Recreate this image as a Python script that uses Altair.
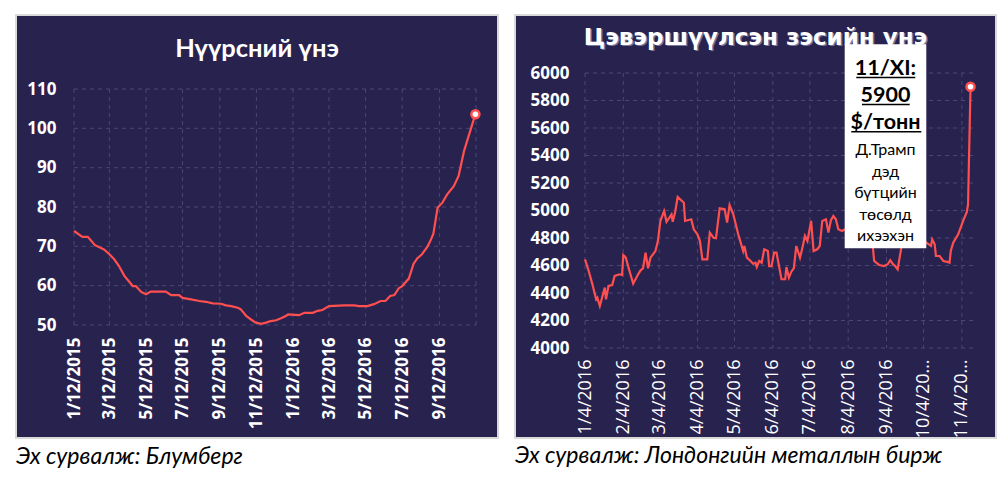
import altair as alt
import pandas as pd

# ---------------- data ----------------
coal_dates = [
    "2015-01-12", "2015-01-26", "2015-02-04", "2015-02-16", "2015-03-03", "2015-03-12",
    "2015-03-20", "2015-03-28", "2015-04-06", "2015-04-20", "2015-04-25", "2015-05-04",
    "2015-05-12", "2015-05-20", "2015-06-14", "2015-06-23", "2015-07-06", "2015-07-12",
    "2015-07-26", "2015-08-09", "2015-08-20", "2015-08-31", "2015-09-14", "2015-09-22",
    "2015-10-01", "2015-10-12", "2015-10-17", "2015-10-26", "2015-11-03", "2015-11-11",
    "2015-11-20", "2015-11-28", "2015-12-06", "2015-12-15", "2015-12-23", "2015-12-31",
    "2016-01-04", "2016-01-22", "2016-01-31", "2016-02-14", "2016-02-22", "2016-03-01",
    "2016-03-12", "2016-04-06", "2016-04-23", "2016-05-01", "2016-05-15", "2016-05-26",
    "2016-06-06", "2016-06-14", "2016-06-22", "2016-06-29", "2016-07-06", "2016-07-12",
    "2016-07-23", "2016-07-31", "2016-08-06", "2016-08-14", "2016-08-23", "2016-08-28",
    "2016-09-02", "2016-09-09", "2016-09-17", "2016-09-25", "2016-10-06", "2016-10-14",
    "2016-10-23", "2016-11-11",
]
coal_values = [
    73.9, 72.4, 72.4, 70.3, 69.2, 68.0,
    66.7, 65.0, 62.5, 59.9, 59.9, 58.4,
    57.8, 58.5, 58.5, 57.6, 57.6, 56.9,
    56.5, 56.1, 55.9, 55.5, 55.4, 55.0,
    54.8, 54.4, 54.0, 52.3, 51.4, 50.6,
    50.3, 50.6, 51.0, 51.2, 51.7, 52.3,
    52.7, 52.5, 53.1, 53.1, 53.6, 53.8,
    54.8, 55.0, 55.0, 54.8, 54.8, 55.3,
    56.1, 56.1, 57.4, 57.6, 59.3, 59.9,
    61.8, 65.6, 66.9, 68.0, 69.9, 71.4,
    73.2, 79.8, 81.1, 83.2, 85.3, 87.9,
    94.2, 103.6,
]

copper_dates = [
    "2016-01-04", "2016-01-07", "2016-01-10", "2016-01-13", "2016-01-14", "2016-01-16",
    "2016-01-20", "2016-01-21", "2016-01-23", "2016-01-26", "2016-01-28", "2016-02-01",
    "2016-02-03", "2016-02-04", "2016-02-06", "2016-02-09", "2016-02-12", "2016-02-16",
    "2016-02-18", "2016-02-20", "2016-02-22", "2016-02-24", "2016-02-26", "2016-03-01",
    "2016-03-03", "2016-03-05", "2016-03-08", "2016-03-10", "2016-03-14", "2016-03-15",
    "2016-03-17", "2016-03-19", "2016-03-24", "2016-03-25", "2016-03-30", "2016-04-01",
    "2016-04-04", "2016-04-06", "2016-04-08", "2016-04-12", "2016-04-14", "2016-04-17",
    "2016-04-19", "2016-04-22", "2016-04-26", "2016-04-28", "2016-04-30", "2016-05-03",
    "2016-05-05", "2016-05-07", "2016-05-09", "2016-05-11", "2016-05-12", "2016-05-14",
    "2016-05-17", "2016-05-19", "2016-05-21", "2016-05-22", "2016-05-24", "2016-05-26",
    "2016-05-28", "2016-05-31", "2016-06-01", "2016-06-03", "2016-06-05", "2016-06-07",
    "2016-06-09", "2016-06-11", "2016-06-14", "2016-06-15", "2016-06-17", "2016-06-19",
    "2016-06-21", "2016-06-23", "2016-06-26", "2016-06-28", "2016-06-30", "2016-07-02",
    "2016-07-05", "2016-07-07", "2016-07-10", "2016-07-12", "2016-07-14", "2016-07-17",
    "2016-07-19", "2016-07-21", "2016-07-23", "2016-07-25", "2016-07-27", "2016-07-30",
    "2016-08-05", "2016-08-12", "2016-08-19", "2016-08-24", "2016-08-25", "2016-08-29",
    "2016-09-02", "2016-09-05", "2016-09-07", "2016-09-09", "2016-09-11", "2016-09-13",
    "2016-09-16", "2016-09-22", "2016-09-28", "2016-10-04", "2016-10-10", "2016-10-11",
    "2016-10-13", "2016-10-14", "2016-10-17", "2016-10-20", "2016-10-24", "2016-10-25",
    "2016-10-26", "2016-10-28", "2016-11-01", "2016-11-05", "2016-11-08", "2016-11-09",
    "2016-11-10", "2016-11-11",
]
copper_values = [
    4645, 4560, 4463, 4354, 4366, 4305,
    4439, 4354, 4451, 4458, 4524, 4536,
    4531, 4676, 4657, 4560, 4468, 4536,
    4565, 4580, 4693, 4580, 4657, 4705,
    4778, 4924, 4996, 4918, 4972, 4918,
    4991, 5098, 5057, 4924, 4936, 4863,
    4827, 4778, 4645, 4645, 4839, 4802,
    4798, 5016, 5009, 4912, 5040, 4972,
    4900, 4827, 4766, 4705, 4742, 4657,
    4633, 4613, 4620, 4589, 4633, 4620,
    4718, 4705, 4596, 4596, 4693, 4693,
    4596, 4500, 4500, 4589, 4511, 4555,
    4580, 4742, 4657, 4730, 4815, 4778,
    4924, 4705, 4718, 4742, 4924, 4936,
    4839, 4929, 4960, 4936, 4863, 4851,
    4880, 4800, 4770, 4730, 4633, 4604,
    4596, 4609, 4638, 4613, 4596, 4572,
    4730, 4790, 4830, 4780, 4742, 4790,
    4754, 4669, 4669, 4633, 4625, 4620,
    4705, 4766, 4827, 4924, 4990, 5045,
    5480, 5900,
]

coal_title = "Нүүрсний үнэ"
copper_title = "Цэвэршүүлсэн зэсийн үнэ"
coal_source = "Эх сурвалж: Блумберг"
copper_source = "Эх сурвалж: Лондонгийн металлын бирж"
note_bold = ["11/XI:", "5900", "$/тонн"]
note_text = ["Д.Трамп", "дэд", "бүтцийн", "төсөлд", "ихээхэн"]

coal_y_ticks = [50, 60, 70, 80, 90, 100, 110]
coal_x_ticks = [
    "2015-01-12", "2015-03-12", "2015-05-12", "2015-07-12", "2015-09-12", "2015-11-12",
    "2016-01-12", "2016-03-12", "2016-05-12", "2016-07-12", "2016-09-12", "2016-11-12",
]
coal_x_range = ["2015-01-12", "2016-11-12"]

copper_y_ticks = [4000, 4200, 4400, 4600, 4800, 5000, 5200, 5400, 5600, 5800, 6000]
copper_x_ticks = [
    "2016-01-04", "2016-02-04", "2016-03-04", "2016-04-04", "2016-05-04", "2016-06-04",
    "2016-07-04", "2016-08-04", "2016-09-04", "2016-10-04", "2016-11-04",
]
copper_x_range = ["2016-01-04", "2016-11-13"]

# ---------------- styles ----------------
BG = "#28224f"
GRID = "#4b4676"
LINE = "#ff4f4f"
BORDER = "#d9d9d9"
FONT = "Lato"
AXFONT = "Open Sans"


def ms(s):
    return int(pd.Timestamp(s, tz="UTC").value // 10**6)


def one(text):
    return pd.DataFrame({"t": [text]})


def panel(dates, values, x_ticks, x_range, y_ticks, pw, ph, L, T, R, B,
          title, title_font, title_size, title_y, source, source_y,
          label_expr, x_label_weight, x_label_size, y_label_size,
          x_label_pad, y_label_pad, shadow=False):
    """pw, ph: whole panel size; L, T, R, B: margins of the plotting region."""
    df = pd.DataFrame({"date": dates, "value": values})
    last = df.iloc[[-1]]
    x0, x1 = L, pw - R
    y0, y1 = T, ph - B
    xscale = alt.Scale(type="utc", domain=[ms(x_range[0]), ms(x_range[1])],
                       range=[x0, x1])
    yscale = alt.Scale(domain=[y_ticks[0], y_ticks[-1]], nice=False, zero=False,
                       range=[y1, y0])
    xaxis = alt.Axis(
        title=None, grid=False, domain=False, ticks=False,
        values=[ms(t) for t in x_ticks], labelExpr=label_expr,
        labelAngle=270, labelAlign="right", labelBaseline="middle",
        labelFont=AXFONT, labelFontSize=x_label_size,
        labelFontWeight=x_label_weight, labelColor="white",
        labelPadding=x_label_pad, labelOverlap=False, labelFlush=False,
        labelLimit=200, offset=-(ph - y1),
    )
    yaxis = alt.Axis(
        title=None, grid=False, domain=False, ticks=False, values=y_ticks,
        format="d", labelFont=AXFONT, labelFontSize=y_label_size,
        labelFontWeight="bold", labelColor="white", labelPadding=y_label_pad,
        labelAlign="right", labelBaseline="middle", labelAngle=0,
        labelOverlap=False, labelFlush=False, offset=-x0,
    )
    X = lambda f: alt.X(f, scale=xscale, axis=xaxis)
    Y = lambda f: alt.Y(f, scale=yscale, axis=yaxis)

    gx = alt.Chart(pd.DataFrame({"d": x_ticks})).mark_rule(
        color=GRID, strokeDash=[4, 4], strokeWidth=1
    ).encode(x=X("d:T"), y=alt.value(y0), y2=alt.value(y1))
    gy = alt.Chart(pd.DataFrame({"v": y_ticks})).mark_rule(
        color=GRID, strokeDash=[4, 4], strokeWidth=1
    ).encode(y=Y("v:Q"), x=alt.value(x0), x2=alt.value(x1))

    layers = [gx, gy]
    if shadow:
        layers.append(
            alt.Chart(one(title)).mark_text(
                font=title_font, fontSize=title_size, fontWeight="bold",
                color="#7a779c", align="center", baseline="alphabetic", dx=1.5, dy=1.5,
            ).encode(x=alt.value(pw / 2), y=alt.value(title_y), text="t:N")
        )
    layers.append(
        alt.Chart(one(title)).mark_text(
            font=title_font, fontSize=title_size, fontWeight="bold",
            color="white", align="center", baseline="alphabetic",
        ).encode(x=alt.value(pw / 2), y=alt.value(title_y), text="t:N")
    )

    line = alt.Chart(df).mark_line(color=LINE, strokeWidth=2.2).encode(
        x=X("date:T"), y=Y("value:Q")
    )
    pt = alt.Chart(last).mark_point(
        shape="circle", filled=True, fill="white", stroke=LINE, strokeWidth=2.5,
        size=65, opacity=1,
    ).encode(x=X("date:T"), y=Y("value:Q"))
    layers += [line, pt]

    src = alt.Chart(one(source)).mark_text(
        font=FONT, fontSize=23, fontStyle="italic", color="black",
        align="left", baseline="alphabetic",
    ).encode(x=alt.value(0), y=alt.value(source_y), text="t:N")
    return layers, src


view = alt.ViewBackground(fill=BG, stroke=BORDER, strokeWidth=2)

coal_expr = (
    f"datum.value >= {ms('2016-11-01')} ? '' : utcFormat(datum.value, '%-m/%d/%Y')"
)
copper_expr = (
    "utcmonth(datum.value) >= 9 ? utcFormat(datum.value, '%-m/%-d/20') + '…'"
    " : utcFormat(datum.value, '%-m/%-d/%Y')"
)

PW1, PH1 = 482, 423
l1, s1 = panel(coal_dates, coal_values, coal_x_ticks, coal_x_range, coal_y_ticks,
               PW1, PH1, 58, 74, 22, 113, coal_title, FONT, 25.5, 42,
               coal_source, 449, coal_expr, "bold", 17, 17, 12, 18)
left = alt.layer(*l1, s1).properties(width=PW1, height=PH1, view=view)

PW2, PH2 = 481, 423
l2, s2 = panel(copper_dates, copper_values, copper_x_ticks, copper_x_range,
               copper_y_ticks, PW2, PH2, 70, 58, 23, 90, copper_title,
               "DejaVu Sans", 23, 29.5, copper_source, 448, copper_expr, "normal",
               18, 17, 11, 16, shadow=True)

box = alt.Chart(one("")).mark_rect(fill="white").encode(
    x=alt.value(329.7), x2=alt.value(411.3), y=alt.value(29.3), y2=alt.value(233.3)
)
bold_txt = alt.Chart(pd.DataFrame({"t": ["\n".join(note_bold)]})).mark_text(
    font=FONT, fontSize=21.5, fontWeight="bold", color="black", align="center",
    baseline="alphabetic", lineBreak="\n", lineHeight=27,
).encode(x=alt.value(370.5), y=alt.value(60), text="t:N")
reg_txt = alt.Chart(pd.DataFrame({"t": ["\n".join(note_text)]})).mark_text(
    font=FONT, fontSize=16, color="black", align="center",
    baseline="alphabetic", lineBreak="\n", lineHeight=21.5,
).encode(x=alt.value(370.5), y=alt.value(140), text="t:N")
underlines = [
    alt.Chart(one("")).mark_rule(color="black", strokeWidth=1.6).encode(
        x=alt.value(a), x2=alt.value(b), y=alt.value(yy)
    )
    for a, b, yy in [(341.3, 400.3, 62.5), (347, 394.7, 89.5), (336.3, 406.3, 116.7)]
]
right = alt.layer(*l2, box, bold_txt, reg_txt, *underlines, s2).properties(
    width=PW2, height=PH2, view=view
)

chart = alt.hconcat(left, right, spacing=15).properties(
    background="white",
    padding={"left": 15, "top": 14, "right": 0, "bottom": 0},
)

chart.save("out.html", embed_options={"renderer": "svg", "actions": False})
